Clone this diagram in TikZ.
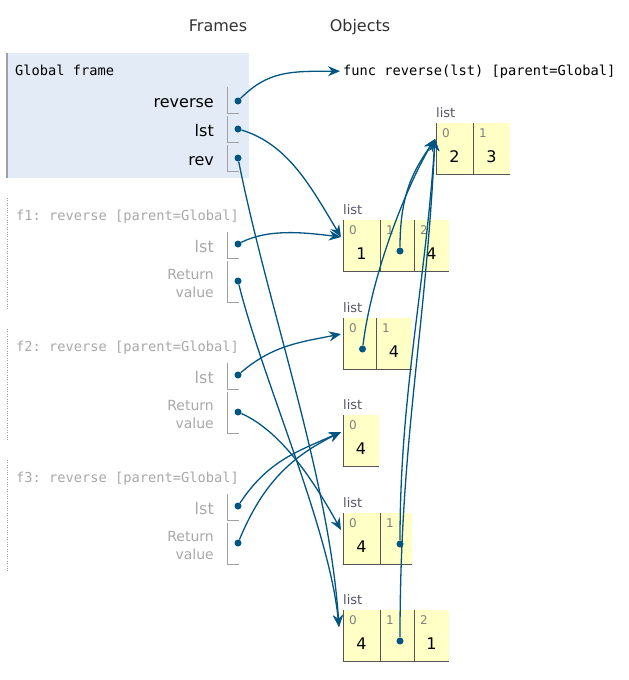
\documentclass[tikz,border=0pt]{standalone}
\usepackage{fontspec}
\setmainfont{DejaVu Sans}
\setmonofont{DejaVu Sans Mono}
\usetikzlibrary{arrows.meta}

\definecolor{ptrblue}{HTML}{005583}
\definecolor{framebg}{HTML}{E2EBF6}
\definecolor{listbg}{HTML}{FFFFC6}
\definecolor{framegray}{HTML}{A8A8A8}
\definecolor{bracketgray}{HTML}{A0A0A0}
\definecolor{idxgray}{HTML}{808080}
\definecolor{lblgray}{HTML}{555566}
\definecolor{celldark}{HTML}{555555}

\begin{document}
\begin{tikzpicture}[x=1pt,y=-1pt]
      \tikzset{
      hdr/.style={font=\fontsize{16}{19}\selectfont, anchor=base, inner sep=0pt, text=black!80},
      mono/.style={font=\ttfamily\fontsize{13.7}{16}\selectfont, anchor=base west, inner sep=0pt},
      varname/.style={font=\fontsize{16}{19}\selectfont, anchor=base east, inner sep=0pt},
      retname/.style={font=\fontsize{14}{18}\selectfont, anchor=base east, inner sep=0pt, align=right},
      bracket/.style={draw=bracketgray, line width=1pt},
      ptrdot/.style={circle, fill=ptrblue, inner sep=0pt, minimum size=7pt},
      ptr/.style={draw=ptrblue, line width=1.3pt, -{Stealth[length=12pt,width=10pt,inset=4pt]}},
      cell/.style={fill=listbg, minimum width=#1, minimum height=51pt, inner sep=0pt, outer sep=0pt, anchor=north west},
      cellline/.style={draw=celldark, line width=1pt},
      idx/.style={font=\fontsize{12}{14}\selectfont, text=idxgray, anchor=base west, inner sep=0pt},
      val/.style={font=\fontsize{16}{19}\selectfont, anchor=base, inner sep=0pt},
      lbl/.style={font=\fontsize{13}{15}\selectfont, text=lblgray, anchor=base west, inner sep=0pt},
      }
      \useasboundingbox (0,0) rectangle (629,680);

      %headers
      \node[hdr] (frames) at (218,31) {Frames};
      \node[hdr] (objects) at (360,31) {Objects};

      %Global frame
      \fill[framebg] (7,53) rectangle (249,178);
      \draw[bracketgray, line width=1.5pt] (7,53) -- (7,178);
      \node[mono] (gtitle) at (15,75) {Global frame};
      \node[varname] (gname1) at (214,107) {reverse};
      \node[varname] (gname2) at (214,136) {lst};
      \node[varname] (gname3) at (214,165) {rev};
      \draw[bracket] (227,87) -- (227,113) -- (239,113);
      \draw[bracket] (227,116) -- (227,142) -- (239,142);
      \draw[bracket] (227,145) -- (227,171) -- (239,171);
      \node[ptrdot] (greverse) at (238,101) {};
      \node[ptrdot] (glst) at (238,129) {};
      \node[ptrdot] (grev) at (238,158) {};

      %f1
      \draw[bracketgray, dotted] (7,198) -- (7,309);
      \node[mono, text=framegray] (fonetitle) at (16,220) {f1: reverse [parent=Global]};
      \node[varname, text=framegray] (fonename1) at (214,252) {lst};
      \node[retname, text=framegray] (fonename2) at (214,297) {Return\\value};
      \draw[bracket] (227,232) -- (227,258) -- (239,258);
      \draw[bracket] (227,261) -- (227,302) -- (239,302);
      \node[ptrdot] (fonelst) at (238,244) {};
      \node[ptrdot] (foneret) at (238,281) {};

      %f2
      \draw[bracketgray, dotted] (7,329) -- (7,440);
      \node[mono, text=framegray] (ftwotitle) at (16,351) {f2: reverse [parent=Global]};
      \node[varname, text=framegray] (ftwoname1) at (214,383) {lst};
      \node[retname, text=framegray] (ftwoname2) at (214,428) {Return\\value};
      \draw[bracket] (227,363) -- (227,389) -- (239,389);
      \draw[bracket] (227,392) -- (227,433) -- (239,433);
      \node[ptrdot] (ftwolst) at (238,375) {};
      \node[ptrdot] (ftworet) at (238,412) {};

      %f3
      \draw[bracketgray, dotted] (7,460) -- (7,571);
      \node[mono, text=framegray] (fthreetitle) at (16,482) {f3: reverse [parent=Global]};
      \node[varname, text=framegray] (fthreename1) at (214,514) {lst};
      \node[retname, text=framegray] (fthreename2) at (214,559) {Return\\value};
      \draw[bracket] (227,494) -- (227,520) -- (239,520);
      \draw[bracket] (227,523) -- (227,564) -- (239,564);
      \node[ptrdot] (fthreelst) at (238,506) {};
      \node[ptrdot] (fthreeret) at (238,543) {};

      %function object
      \node[mono] (functext) at (343,75) {func reverse(lst) [parent=Global]};
      \coordinate (functip) at ([xshift=-3pt]functext.west);

      %list A: [2, 3]
      \node[cell=37pt] (A0) at (436,123) {};
      \node[cell=37pt] (A1) at (A0.north east) {};
      \draw[cellline] (A0.north west) |- (A1.south east);
      \draw[cellline] (A1.north west) -- (A1.south west);
      \node[lbl] (Alabel) at ([yshift=6pt]A0.north west) {list};
      \node[idx] (A0i) at ([xshift=6pt,yshift=-14pt]A0.north west) {0};
      \node[idx] (A1i) at ([xshift=6pt,yshift=-14pt]A1.north west) {1};
      \node[val] (A0v) at ([yshift=-39pt]A0.north) {2};
      \node[val] (A1v) at ([yshift=-39pt]A1.north) {3};
      \coordinate (Atip) at ([xshift=-1pt,yshift=-16pt]A0.north west);

      %list B: [1, ->, 4]
      \node[cell=37pt] (B0) at (343,220) {};
      \node[cell=34pt] (B1) at (B0.north east) {};
      \node[cell=35pt] (B2) at (B1.north east) {};
      \draw[cellline] (B0.north west) |- (B2.south east);
      \draw[cellline] (B1.north west) -- (B1.south west);
      \draw[cellline] (B2.north west) -- (B2.south west);
      \node[lbl] (Blabel) at ([yshift=6pt]B0.north west) {list};
      \node[idx] (B0i) at ([xshift=6pt,yshift=-14pt]B0.north west) {0};
      \node[idx] (B1i) at ([xshift=6pt,yshift=-14pt]B1.north west) {1};
      \node[idx] (B2i) at ([xshift=6pt,yshift=-14pt]B2.north west) {2};
      \node[val] (B0v) at ([yshift=-39pt]B0.north) {1};
      \node[val] (B2v) at ([yshift=-39pt]B2.north) {4};
      \node[ptrdot] (B1p) at ([xshift=3pt,yshift=-31pt]B1.north) {};
      \coordinate (Btip) at ([xshift=-2pt,yshift=-17pt]B0.north west);

      %list C: [->, 4]
      \node[cell=33pt] (C0) at (343,318) {};
      \node[cell=36pt] (C1) at (C0.north east) {};
      \draw[cellline] (C0.north west) |- (C1.south east);
      \draw[cellline] (C1.north west) -- (C1.south west);
      \node[lbl] (Clabel) at ([yshift=6pt]C0.north west) {list};
      \node[idx] (C0i) at ([xshift=6pt,yshift=-14pt]C0.north west) {0};
      \node[idx] (C1i) at ([xshift=6pt,yshift=-14pt]C1.north west) {1};
      \node[val] (C1v) at ([yshift=-39pt]C1.north) {4};
      \node[ptrdot] (C0p) at ([xshift=3pt,yshift=-31pt]C0.north) {};
      \coordinate (Ctip) at ([xshift=-2pt,yshift=-16pt]C0.north west);

      %list D: [4]
      \node[cell=36pt] (D0) at (343,415) {};
      \draw[cellline] (D0.north west) |- (D0.south east);
      \node[lbl] (Dlabel) at ([yshift=6pt]D0.north west) {list};
      \node[idx] (D0i) at ([xshift=6pt,yshift=-14pt]D0.north west) {0};
      \node[val] (D0v) at ([yshift=-39pt]D0.north) {4};
      \coordinate (Dtip) at ([xshift=-2pt,yshift=-17pt]D0.north west);

      %list E: [4, ->]
      \node[cell=37pt] (E0) at (343,513) {};
      \node[cell=32pt] (E1) at (E0.north east) {};
      \draw[cellline] (E0.north west) |- (E1.south east);
      \draw[cellline] (E1.north west) -- (E1.south west);
      \node[lbl] (Elabel) at ([yshift=6pt]E0.north west) {list};
      \node[idx] (E0i) at ([xshift=6pt,yshift=-14pt]E0.north west) {0};
      \node[idx] (E1i) at ([xshift=6pt,yshift=-14pt]E1.north west) {1};
      \node[val] (E0v) at ([yshift=-39pt]E0.north) {4};
      \node[ptrdot] (E1p) at ([xshift=4pt,yshift=-31pt]E1.north) {};
      \coordinate (Etip) at ([xshift=-2pt,yshift=-17pt]E0.north west);

      %list F: [4, ->, 1]
      \node[cell=37pt] (F0) at (343,610) {};
      \node[cell=34pt] (F1) at (F0.north east) {};
      \node[cell=35pt] (F2) at (F1.north east) {};
      \draw[cellline] (F0.north west) |- (F2.south east);
      \draw[cellline] (F1.north west) -- (F1.south west);
      \draw[cellline] (F2.north west) -- (F2.south west);
      \node[lbl] (Flabel) at ([yshift=6pt]F0.north west) {list};
      \node[idx] (F0i) at ([xshift=6pt,yshift=-14pt]F0.north west) {0};
      \node[idx] (F1i) at ([xshift=6pt,yshift=-14pt]F1.north west) {1};
      \node[idx] (F2i) at ([xshift=6pt,yshift=-14pt]F2.north west) {2};
      \node[val] (F0v) at ([yshift=-39pt]F0.north) {4};
      \node[val] (F2v) at ([yshift=-39pt]F2.north) {1};
      \node[ptrdot] (F1p) at ([xshift=3pt,yshift=-31pt]F1.north) {};
      \coordinate (Ftip) at ([xshift=-4pt,yshift=-17pt]F0.north west);

      %pointers from frames
      \draw[ptr] (greverse) .. controls +(30,-30) and +(-50,0) .. (functip);
      \draw[ptr] (glst) .. controls +(50,15) and +(-30,-50) .. (Btip);
      \draw[ptr] (grev) .. controls +(30,150) and +(-10,-150) .. (Ftip);
      \draw[ptr] (fonelst) .. controls +(30,-15) and +(-40,-5) .. (Btip);
      \draw[ptr] (foneret) .. controls +(25,100) and +(-10,-100) .. (Ftip);
      \draw[ptr] (ftwolst) .. controls +(35,-30) and +(-40,8) .. (Ctip);
      \draw[ptr] (ftworet) .. controls +(45,20) and +(-25,-45) .. (Etip);
      \draw[ptr] (fthreelst) .. controls +(30,-45) and +(-45,20) .. (Dtip);
      \draw[ptr] (fthreeret) .. controls +(25,-60) and +(-50,25) .. (Dtip);

      %pointers from list cells
      \draw[ptr] (B1p) .. controls +(0,-60) and +(-20,30) .. (Atip);
      \draw[ptr] (C0p) .. controls +(10,-80) and +(-25,40) .. (Atip);
      \draw[ptr] (E1p) .. controls +(0,-150) and +(-10,150) .. (Atip);
      \draw[ptr] (F1p) .. controls +(0,-200) and +(-10,200) .. (Atip);
\end{tikzpicture}
\end{document}
